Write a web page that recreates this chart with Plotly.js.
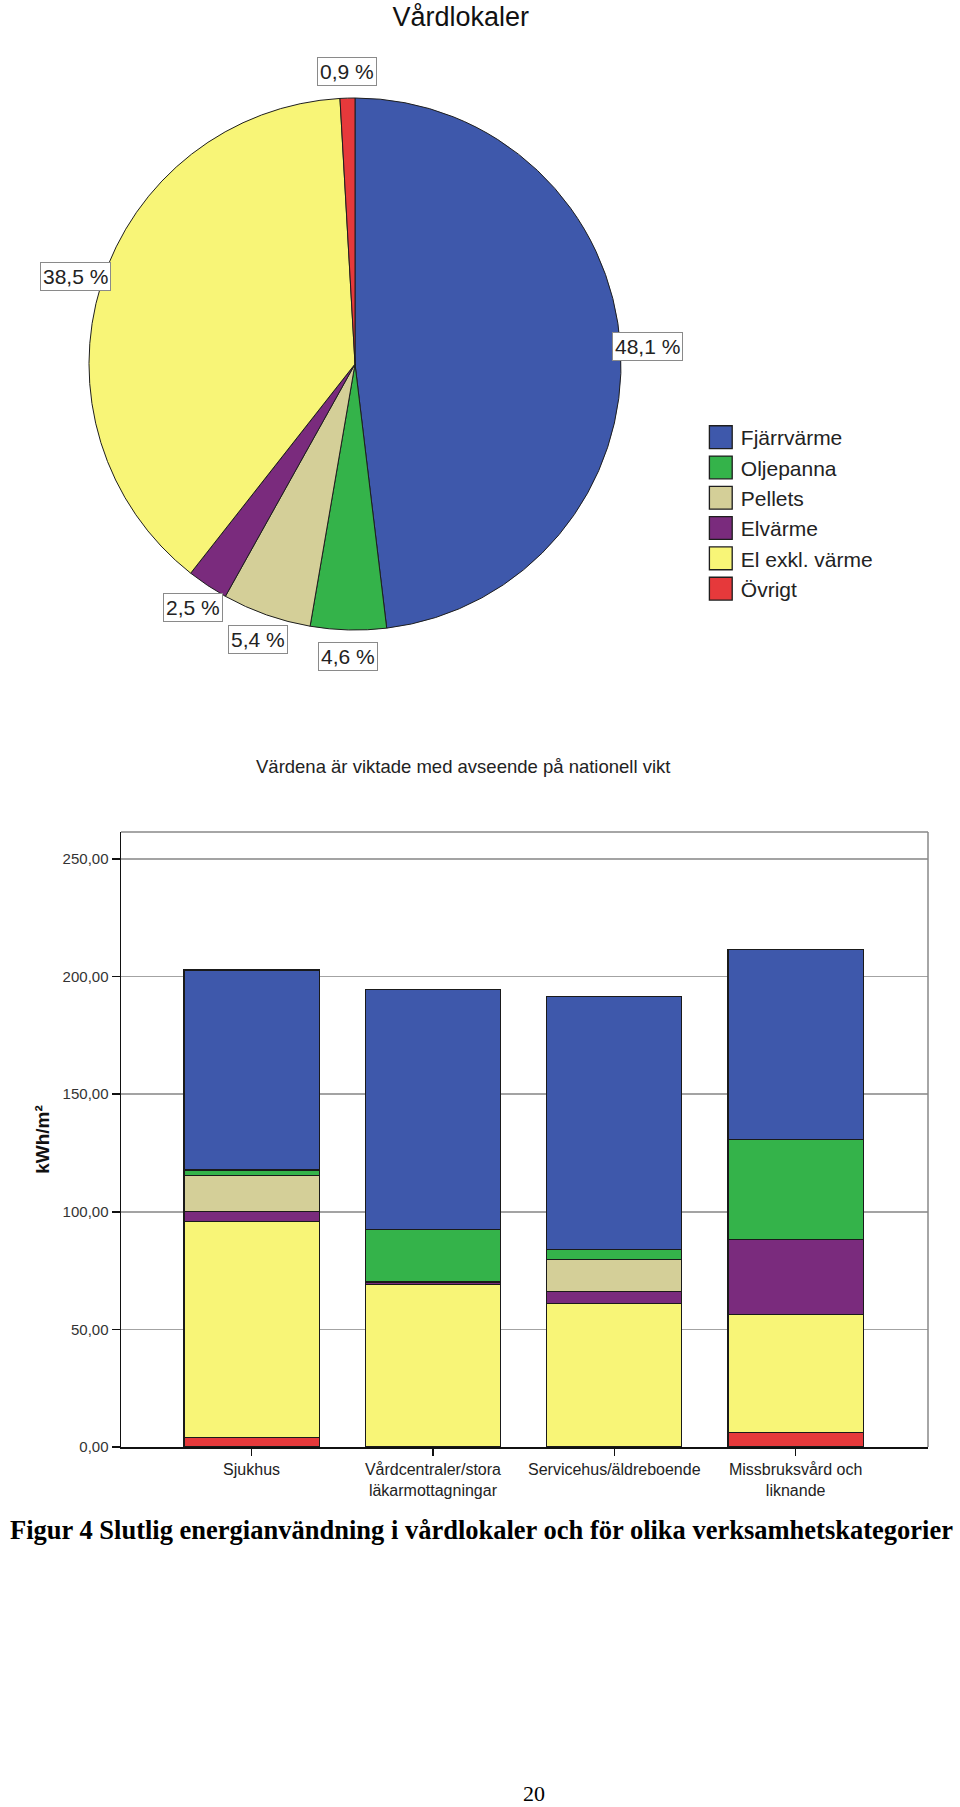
<!DOCTYPE html>
<html>
<head>
<meta charset="utf-8">
<script src="https://cdn.plot.ly/plotly-3.0.1.min.js"></script>
<style>
  html, body { margin: 0; padding: 0; background: #ffffff; }
  #chart { width: 960px; height: 1807px; }
</style>
</head>
<body>
<div id="chart"></div>
<script>
// ---------- Data ----------
const seriesNames = ['Fjärrvärme', 'Oljepanna', 'Pellets', 'Elvärme', 'El exkl. värme', 'Övrigt'];
const seriesColors = ['#3e58ab', '#34b34a', '#d4cf98', '#7a2b7d', '#f8f577', '#e6393b'];

// Pie: share of total (%)
const pieShares = [48.1, 4.6, 5.4, 2.5, 38.5, 0.9];

// Stacked bars (kWh/m²)
const categories = ['Sjukhus', 'Vårdcentraler/stora<br>läkarmottagningar', 'Servicehus/äldreboende', 'Missbruksvård och<br>liknande'];
const ovrigt    = [4.0, 0.0, 0.3, 6.1];
const elExkl    = [92.0, 69.0, 60.7, 50.2];
const elvarme   = [4.0, 1.2, 5.1, 31.9];
const pellets   = [15.5, 0.3, 13.5, 0.0];
const oljepanna = [2.3, 22.1, 4.4, 42.6];
const fjarrvarme = [85.0, 102.1, 107.4, 80.6];

const yTicks = [0, 50, 100, 150, 200, 250];

// ---------- Layout constants ----------
const W = 960, H = 1807;
const FONT = 'Liberation Sans, Arial, sans-serif';
const SERIF = 'Liberation Serif, Times New Roman, serif';
const pieDomain = { x: [0.0927, 0.6469], y: [0.6513, 0.9458] };

// ---------- Traces ----------
const pieTrace = {
  type: 'pie',
  values: pieShares,
  labels: seriesNames,
  sort: false,
  direction: 'clockwise',
  rotation: 0,
  textinfo: 'none',
  hoverinfo: 'label+percent',
  marker: { colors: seriesColors, line: { color: '#1e1e1e', width: 1 } },
  domain: pieDomain,
  showlegend: true
};

const barSeries = [
  { name: 'Övrigt', y: ovrigt, color: seriesColors[5] },
  { name: 'El exkl. värme', y: elExkl, color: seriesColors[4] },
  { name: 'Elvärme', y: elvarme, color: seriesColors[3] },
  { name: 'Pellets', y: pellets, color: seriesColors[2] },
  { name: 'Oljepanna', y: oljepanna, color: seriesColors[1] },
  { name: 'Fjärrvärme', y: fjarrvarme, color: seriesColors[0] }
];
const barTraces = barSeries.map(s => ({
  type: 'bar',
  name: s.name,
  x: categories,
  y: s.y,
  marker: { color: s.color, line: { color: '#1a1a1a', width: 1.2 } },
  showlegend: false,
  xaxis: 'x', yaxis: 'y'
}));

// ---------- Pie labels (boxes) derived from slice mid-angles ----------
const total = pieShares.reduce((a, b) => a + b, 0);
const pxW = (pieDomain.x[1] - pieDomain.x[0]) * W;
const pxH = (pieDomain.y[1] - pieDomain.y[0]) * H;
const R = Math.min(pxW, pxH) / 2;
const cx = (pieDomain.x[0] + pieDomain.x[1]) / 2 * W;
const cy = (1 - (pieDomain.y[0] + pieDomain.y[1]) / 2) * H;
let cum = 0;
const pieLabels = pieShares.map(v => {
  const mid = (cum + v / 2) / total * 2 * Math.PI;
  cum += v;
  const k = 1.1;
  const px = cx + k * R * Math.sin(mid);
  const py = cy - k * R * Math.cos(mid);
  return {
    xref: 'paper', yref: 'paper',
    x: px / W, y: 1 - py / H,
    xanchor: 'center', yanchor: 'middle',
    text: v.toFixed(1).replace('.', ',') + ' %',
    showarrow: false,
    font: { family: FONT, size: 21, color: '#222' },
    bordercolor: '#8a8a8a', borderwidth: 1, borderpad: 2, bgcolor: '#ffffff'
  };
});

const layout = {
  width: W, height: H,
  margin: { l: 0, r: 0, t: 0, b: 0 },
  paper_bgcolor: '#ffffff',
  plot_bgcolor: '#ffffff',
  separators: ', ',
  font: { family: FONT, color: '#222' },
  title: {
    text: 'Vårdlokaler',
    x: 0.48, xanchor: 'center',
    y: 1 - 17 / H, yanchor: 'middle',
    font: { family: FONT, size: 27, color: '#111' }
  },
  barmode: 'stack',
  bargap: 0.255,
  legend: {
    x: 0.730, y: 1 - 417 / H, xanchor: 'left', yanchor: 'top',
    font: { family: FONT, size: 21, color: '#222' },
    bgcolor: 'rgba(0,0,0,0)', traceorder: 'normal',
    tracegroupgap: 0
  },
  xaxis: {
    domain: [121 / W, 928 / W],
    anchor: 'y',
    type: 'category',
    range: [-0.72, 3.73],
    showline: true, linecolor: '#111', linewidth: 1.5,
    ticks: 'outside', ticklen: 7, tickcolor: '#111', tickwidth: 1.5,
    tickfont: { family: FONT, size: 16, color: '#222' },
    showgrid: false, zeroline: false, fixedrange: true
  },
  yaxis: {
    domain: [1 - 1447 / H, 1 - 832 / H],
    anchor: 'x',
    range: [0, 261.5],
    tickvals: yTicks,
    tickformat: '.2f',
    showline: true, linecolor: '#111', linewidth: 1.5,
    ticks: 'outside', ticklen: 8, tickcolor: '#111', tickwidth: 1.5,
    tickfont: { family: FONT, size: 15, color: '#333' },
    showgrid: true, gridcolor: '#a3a3a3', gridwidth: 1.5,
    zeroline: false, fixedrange: true,
    title: { text: '<b>kWh/m²</b>', font: { family: FONT, size: 19, color: '#111' }, standoff: 8 }
  },
  shapes: [
    { type: 'line', xref: 'x domain', yref: 'y domain', x0: 0, x1: 1, y0: 1, y1: 1, line: { color: '#888', width: 1.5 } },
    { type: 'line', xref: 'x domain', yref: 'y domain', x0: 1, x1: 1, y0: 0, y1: 1, line: { color: '#888', width: 1.5 } }
  ],
  annotations: pieLabels.concat([
    {
      xref: 'paper', yref: 'paper', x: 0.482, y: 1 - 766 / H,
      xanchor: 'center', yanchor: 'middle', showarrow: false,
      text: 'Värdena är viktade med avseende på nationell vikt',
      font: { family: FONT, size: 18.5, color: '#222' }
    },
    {
      xref: 'paper', yref: 'paper', x: 0.5016, y: 1 - 1530 / H,
      xanchor: 'center', yanchor: 'middle', showarrow: false,
      text: '<b>Figur 4 Slutlig energianvändning i vårdlokaler och för olika verksamhetskategorier</b>',
      font: { family: SERIF, size: 26.5, color: '#000' }
    },
    {
      xref: 'paper', yref: 'paper', x: 534 / W, y: 1 - 1793 / H,
      xanchor: 'center', yanchor: 'middle', showarrow: false,
      text: '20',
      font: { family: SERIF, size: 22, color: '#000' }
    }
  ])
};

Plotly.newPlot('chart', [pieTrace].concat(barTraces), layout, { displayModeBar: false, staticPlot: true })
  .then(gd => {
    // enlarge legend swatches to match the square boxes of the original
    gd.querySelectorAll('.legend .legendpoints path').forEach(p => {
      const t = p.getAttribute('transform') || '';
      p.setAttribute('transform', t + ' scale(1.9)');
      p.style.strokeWidth = '0.7px';
    });
  });
</script>
</body>
</html>
